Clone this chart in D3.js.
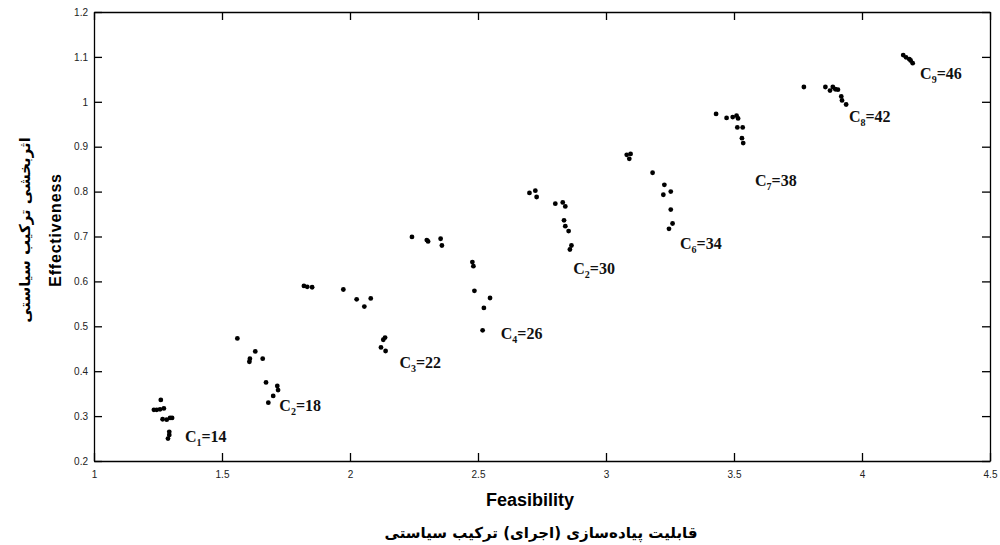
<!DOCTYPE html>
<html>
<head>
<meta charset="utf-8">
<script src="https://cdn.jsdelivr.net/npm/d3@7"></script>
<style>
  body { margin: 0; background: #fff; }
  svg { display: block; }
</style>
</head>
<body>
<div class="chart"></div>
<script>
// scatter points
const feasibility = [
  1.261, 1.234, 1.245, 1.258, 1.273, 1.268, 1.284, 1.297, 1.305, 1.294, 1.294, 1.289,
  1.560, 1.630, 1.609, 1.607, 1.659, 1.672, 1.716, 1.719, 1.700, 1.681,
  1.820, 1.833, 1.852, 1.974, 2.026, 2.081, 2.056, 2.137, 2.130, 2.121, 2.139,
  2.242, 2.300, 2.305, 2.354, 2.359, 2.478, 2.482, 2.486, 2.547, 2.523, 2.518,
  2.701, 2.724, 2.729, 2.802, 2.831, 2.841, 2.836, 2.841, 2.854, 2.865, 2.859,
  3.081, 3.096, 3.091, 3.182, 3.228, 3.224, 3.253, 3.253, 3.260, 3.246,
  3.430, 3.471, 3.495, 3.510, 3.516, 3.513, 3.534, 3.531, 3.536,
  3.773, 3.857, 3.875, 3.886, 3.896, 3.906, 3.919, 3.922, 3.938,
  4.161, 4.172, 4.185, 4.198, 4.190
];
const effectiveness = [
  0.336, 0.314, 0.314, 0.315, 0.317, 0.293, 0.292, 0.296, 0.296, 0.265, 0.258, 0.250,
  0.473, 0.444, 0.428, 0.421, 0.428, 0.375, 0.367, 0.358, 0.345, 0.330,
  0.590, 0.588, 0.587, 0.582, 0.560, 0.562, 0.544, 0.475, 0.470, 0.453, 0.445,
  0.699, 0.692, 0.689, 0.695, 0.680, 0.643, 0.634, 0.579, 0.563, 0.541, 0.491,
  0.797, 0.802, 0.788, 0.773, 0.776, 0.767, 0.736, 0.723, 0.712, 0.680, 0.671,
  0.882, 0.884, 0.873, 0.842, 0.815, 0.793, 0.800, 0.760, 0.729, 0.717,
  0.973, 0.964, 0.966, 0.969, 0.963, 0.943, 0.943, 0.919, 0.908,
  1.033, 1.033, 1.025, 1.033, 1.028, 1.027, 1.012, 1.003, 0.994,
  1.104, 1.099, 1.095, 1.086, 1.092
];

// cluster annotations (C_sub = value), anchored in data units
const clusterSub = ["1", "2", "3", "4", "2", "6", "7", "8", "9"];
const clusterValue = [14, 18, 22, 26, 30, 34, 38, 42, 46];
const clusterX = [1.355, 1.724, 2.193, 2.589, 2.872, 3.289, 3.582, 3.949, 4.227];
const clusterY = [0.2415, 0.312, 0.408, 0.471, 0.616, 0.673, 0.812, 0.954, 1.050];

const xTicks = [1, 1.5, 2, 2.5, 3, 3.5, 4, 4.5];
const yTicks = [0.2, 0.3, 0.4, 0.5, 0.6, 0.7, 0.8, 0.9, 1, 1.1, 1.2];

const width = 1000;
const height = 545;
const margin = { top: 12, right: 10, bottom: 84, left: 94 };

const svg = d3
  .select(".chart")
  .append("svg")
  .attr("width", width)
  .attr("height", height);

const x = d3.scaleLinear().domain([1, 4.5]).range([margin.left, width - margin.right]);
const y = d3.scaleLinear().domain([0.2, 1.2]).range([height - margin.bottom, margin.top]);

const fmt = (d) => String(d);
const tickLen = 8;

// axes with inward ticks, MATLAB style box
svg
  .append("g")
  .attr("transform", "translate(0," + y(0.2) + ")")
  .call(d3.axisBottom(x).tickValues(xTicks).tickFormat(fmt).tickSizeInner(-tickLen).tickSizeOuter(0).tickPadding(10));
svg
  .append("g")
  .attr("transform", "translate(0," + y(1.2) + ")")
  .call(d3.axisTop(x).tickValues(xTicks).tickFormat("").tickSizeInner(-tickLen).tickSizeOuter(0));
svg
  .append("g")
  .attr("transform", "translate(" + x(1) + ",0)")
  .call(d3.axisLeft(y).tickValues(yTicks).tickFormat(fmt).tickSizeInner(-tickLen).tickSizeOuter(0).tickPadding(6));
svg
  .append("g")
  .attr("transform", "translate(" + x(4.5) + ",0)")
  .call(d3.axisRight(y).tickValues(yTicks).tickFormat("").tickSizeInner(-tickLen).tickSizeOuter(0));

svg.selectAll(".domain").attr("stroke", "#000").attr("stroke-width", 1.3);
svg.selectAll(".tick line").attr("stroke", "#000").attr("stroke-width", 1.3);
svg
  .selectAll(".tick text")
  .attr("font-family", "Liberation Sans, Arial, sans-serif")
  .attr("font-size", "10px")
  .attr("fill", "#222");

// points
const points = feasibility.map((f, i) => ({ f: f, e: effectiveness[i] }));
svg
  .append("g")
  .selectAll("circle")
  .data(points)
  .enter()
  .append("circle")
  .attr("cx", (d) => x(d.f))
  .attr("cy", (d) => y(d.e))
  .attr("r", 2.4)
  .attr("fill", "#000");

// cluster labels
const labels = clusterValue.map((v, i) => ({ sub: clusterSub[i], v: v, x: clusterX[i], y: clusterY[i] }));
const lab = svg
  .append("g")
  .selectAll("text")
  .data(labels)
  .enter()
  .append("text")
  .attr("x", (d) => x(d.x))
  .attr("y", (d) => y(d.y))
  .attr("font-family", "Liberation Serif, Times New Roman, serif")
  .attr("font-weight", "bold")
  .attr("font-size", "16px")
  .attr("fill", "#111");
lab.append("tspan").text("C");
lab
  .append("tspan")
  .attr("font-size", "10px")
  .attr("dy", 4)
  .text((d) => d.sub);
lab
  .append("tspan")
  .attr("dy", -4)
  .text((d) => "=" + d.v);

// axis titles
svg
  .append("text")
  .attr("x", 530)
  .attr("y", 506)
  .attr("text-anchor", "middle")
  .attr("font-family", "Liberation Sans Narrow, Arial Narrow, Liberation Sans, sans-serif")
  .attr("font-weight", "bold")
  .attr("font-size", "18px")
  .text("Feasibility");
svg
  .append("text")
  .attr("x", 541)
  .attr("y", 538)
  .attr("text-anchor", "middle")
  .attr("font-family", "DejaVu Sans, sans-serif")
  .attr("font-weight", "bold")
  .attr("font-size", "15px")
  .text("قابلیت پیاده‌سازی (اجرای) ترکیب سیاستی");

svg
  .append("text")
  .attr("transform", "translate(61,230) rotate(-90)")
  .attr("text-anchor", "middle")
  .attr("font-family", "Liberation Sans, Arial, sans-serif")
  .attr("font-weight", "bold")
  .attr("font-size", "16px")
  .attr("letter-spacing", "0.8px")
  .text("Effectiveness");
svg
  .append("text")
  .attr("transform", "translate(30,230) rotate(-90)")
  .attr("text-anchor", "middle")
  .attr("font-family", "DejaVu Sans, sans-serif")
  .attr("font-weight", "bold")
  .attr("font-size", "15px")
  .text("اثربخشی ترکیب سیاستی");
</script>
</body>
</html>
